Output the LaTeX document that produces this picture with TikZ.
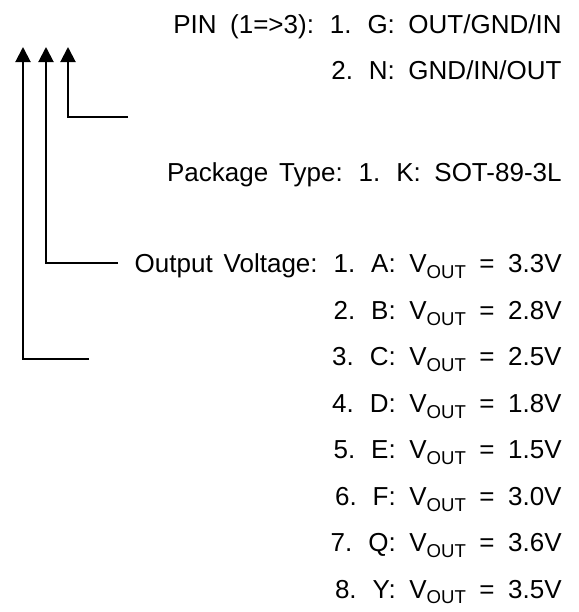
\documentclass[tikz,border=0pt]{standalone}
\usepackage{fontspec}
\setmainfont{Liberation Sans}
\usetikzlibrary{arrows.meta}
\newcommand\codefont{\fontsize{13}{15}\selectfont\spaceskip 0.52em\relax}
\newcommand\nsp{\hspace{0.42em}}
\newcommand\vout{V\raisebox{-0.23em}{\fontsize{9.3}{10}\selectfont OUT}}
\begin{document}
\begin{tikzpicture}[
x=0.5pt,y=-0.5pt,
every node/.style={anchor=base east,inner sep=0pt,font=\codefont},
lead/.style={line width=1pt,-{Triangle[length=7.5pt,width=7.5pt]}}
]
\useasboundingbox (0,0) rectangle (579,612);
% code fields
\node (pin1) at (562,33) {PIN (1=>3): 1. G: OUT/GND/IN};
\node (pin2) at (562,79.5) {2. N: GND/IN/OUT};
\node (pkg) at (562,181) {Package\nsp Type: 1. K: SOT-89-3L};
\node (v1) at (562,272.5) {Output\nsp Voltage: 1. A: \vout{} = 3.3V};
\node (v2) at (562,319.3) {2. B: \vout{} = 2.8V};
\node (v3) at (562,365.7) {3. C: \vout{} = 2.5V};
\node (v4) at (562,412.2) {4. D: \vout{} = 1.8V};
\node (v5) at (562,458.6) {5. E: \vout{} = 1.5V};
\node (v6) at (562,505.1) {6. F: \vout{} = 3.0V};
\node (v7) at (562,551.5) {7. Q: \vout{} = 3.6V};
\node (v8) at (562,598) {8. Y: \vout{} = 3.5V};
% leader lines
\coordinate (e3) at (128,117);
\coordinate (t3) at (68,47);
\coordinate (e2) at (118,263);
\coordinate (t2) at (46,47);
\coordinate (e1) at (89,359);
\coordinate (t1) at (23,47);
\draw[lead] (e3) -| (t3);
\draw[lead] (e2) -| (t2);
\draw[lead] (e1) -| (t1);
\end{tikzpicture}
\end{document}
